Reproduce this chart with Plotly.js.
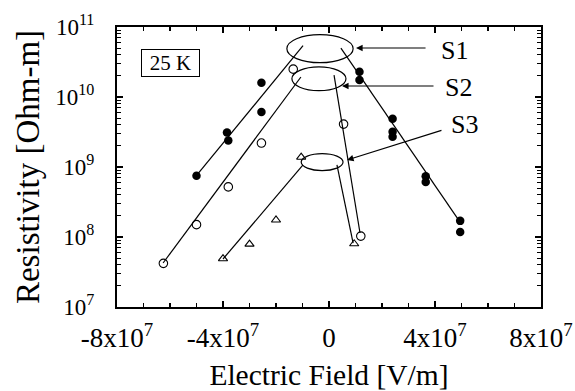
<!DOCTYPE html>
<html>
<head>
<meta charset="utf-8">
<script src="https://cdn.plot.ly/plotly-3.0.1.min.js"></script>
<style>html,body{margin:0;padding:0;background:#fff;}#chart{width:575px;height:391px;}</style>
</head>
<body>
<div id="chart"></div>
<script>
// ---- data ----
const s1Field = [-5.0e7, -3.85e7, -3.8e7, -2.55e7, -2.55e7, 1.15e7, 1.15e7, 2.4e7, 2.4e7, 2.4e7, 3.65e7, 3.65e7, 4.95e7, 4.95e7];
const s1Res   = [7.5e8, 3.1e9, 2.4e9, 1.6e10, 6.1e9, 2.3e10, 1.75e10, 4.9e9, 3.2e9, 2.7e9, 7.4e8, 6.1e8, 1.7e8, 1.18e8];
const s2Field = [-6.25e7, -5.0e7, -3.8e7, -2.55e7, -1.35e7, 0.55e7, 1.2e7];
const s2Res   = [4.2e7, 1.5e8, 5.2e8, 2.2e9, 2.5e10, 4.1e9, 1.03e8];
const s3Field = [-4.0e7, -3.0e7, -2.0e7, -1.05e7, 0.95e7];
const s3Res   = [4.9e7, 7.9e7, 1.75e8, 1.38e9, 8.0e7];

// fitted guide lines (end points)
const s1FitLeftField  = [-5.02e7, -0.98e7];  const s1FitLeftRes  = [7.4e8, 5.4e10];
const s1FitRightField = [0.45e7, 4.94e7];    const s1FitRightRes = [5.0e10, 1.64e8];
const s2FitLeftField  = [-6.26e7, -1.06e7];  const s2FitLeftRes  = [4.25e7, 1.93e10];
const s2FitRightField = [0.19e7, 1.17e7];    const s2FitRightRes = [2.06e10, 1.14e8];
const s3FitLeftField  = [-4.0e7, -0.98e7];   const s3FitLeftRes  = [4.85e7, 1.07e9];
const s3FitRightField = [0.3e7, 0.91e7];     const s3FitRightRes = [1.07e9, 8.2e7];

// peak ellipses [xmin, xmax], [ymin, ymax]
const ellipseLabels = ['S1', 'S2', 'S3'];
const ellipseField  = [[-1.59e7, 0.91e7], [-1.4e7, 0.64e7], [-1.05e7, 0.53e7]];
const ellipseRes    = [[3.09e10, 7.76e10], [1.23e10, 2.69e10], [8.9e8, 1.55e9]];
// arrow heads / tails and label positions (field, log10 resistivity)
const arrowHeadField = [1.02e7, 0.49e7, 0.68e7];
const arrowHeadLogR  = [10.70, 10.157, 9.10];
const arrowTailField = [3.7e7, 4.0e7, 4.3e7];
const arrowTailLogR  = [10.70, 10.157, 9.53];
const labelField     = [4.72e7, 4.9e7, 5.13e7];
const labelLogR      = [10.67, 10.13, 9.61];

const xTickVals = [-8e7, -4e7, 0, 4e7, 8e7];
const xTickText = ['-8x10<sup>7</sup>', '-4x10<sup>7</sup>', '0', '4x10<sup>7</sup>', '8x10<sup>7</sup>'];
const yTickVals = [1e7, 1e8, 1e9, 1e10, 1e11];
const yTickText = ['10<sup>7</sup>', '10<sup>8</sup>', '10<sup>9</sup>', '10<sup>10</sup>', '10<sup>11</sup>'];
const tempLabel = '25 K';

const FONT = '"Liberation Serif", "Times New Roman", "DejaVu Serif", serif';
const lineStyle = {color: '#000', width: 1.2};

function fit(x, y) {
  return {x: x, y: y, mode: 'lines', line: lineStyle, showlegend: false, hoverinfo: 'skip'};
}

const traces = [
  fit(s1FitLeftField, s1FitLeftRes), fit(s1FitRightField, s1FitRightRes),
  fit(s2FitLeftField, s2FitLeftRes), fit(s2FitRightField, s2FitRightRes),
  fit(s3FitLeftField, s3FitLeftRes), fit(s3FitRightField, s3FitRightRes),
  {x: s1Field, y: s1Res, mode: 'markers', name: 'S1', showlegend: false,
   marker: {symbol: 'circle', size: 8.5, color: '#000', line: {color: '#000', width: 0}}},
  {x: s2Field, y: s2Res, mode: 'markers', name: 'S2', showlegend: false,
   marker: {symbol: 'circle-open', size: 8.5, color: '#000', line: {color: '#000', width: 1.1}}},
  {x: s3Field, y: s3Res, mode: 'markers', name: 'S3', showlegend: false,
   marker: {symbol: 'triangle-up-open', size: 8, color: '#000', line: {color: '#000', width: 1.1}}}
];

const shapes = ellipseLabels.map((_, i) => ({
  type: 'circle', xref: 'x', yref: 'y',
  x0: ellipseField[i][0], x1: ellipseField[i][1],
  y0: ellipseRes[i][0], y1: ellipseRes[i][1],
  line: {color: '#000', width: 1.2}
}));

const annotations = [];
ellipseLabels.forEach((lab, i) => {
  annotations.push({
    x: arrowHeadField[i], y: arrowHeadLogR[i], xref: 'x', yref: 'y',
    ax: arrowTailField[i], ay: arrowTailLogR[i], axref: 'x', ayref: 'y',
    text: '', showarrow: true, arrowhead: 2, arrowsize: 1.1, arrowwidth: 1.2, arrowcolor: '#000',
    font: {size: 1}
  });
  annotations.push({
    x: labelField[i], y: labelLogR[i], xref: 'x', yref: 'y',
    text: lab, showarrow: false, xanchor: 'center', yanchor: 'middle',
    font: {family: FONT, size: 26, color: '#000'}
  });
});
annotations.push({
  x: 0.127, y: 0.871, xref: 'paper', yref: 'paper', xanchor: 'center', yanchor: 'middle',
  text: tempLabel, showarrow: false, bordercolor: '#000', borderwidth: 1, borderpad: 1,
  width: 55, height: 24,
  font: {family: FONT, size: 21, color: '#000'}
});

const layout = {
  width: 575, height: 391,
  margin: {l: 117, r: 34, t: 27, b: 84},
  paper_bgcolor: '#fff', plot_bgcolor: '#fff',
  font: {family: FONT, color: '#000'},
  showlegend: false,
  xaxis: {
    range: [-8e7, 8e7], tickmode: 'array', tickvals: xTickVals, ticktext: xTickText,
    ticks: 'inside', ticklen: 6, tickwidth: 1.3, tickcolor: '#000',
    minor: {tickmode: 'linear', tick0: 0, dtick: 1e7, ticks: 'inside', ticklen: 4, tickwidth: 1.1, tickcolor: '#000', showgrid: false},
    showline: true, linecolor: '#000', linewidth: 2, mirror: 'ticks',
    showgrid: false, zeroline: false,
    tickfont: {family: FONT, size: 27, color: '#000'}, ticklabelstandoff: 6,
    title: {text: 'Electric Field [V/m]', font: {family: FONT, size: 29.5, color: '#000'}, standoff: 14}
  },
  yaxis: {
    type: 'log', range: [7, 11], tickmode: 'array', tickvals: yTickVals, ticktext: yTickText,
    ticks: 'inside', ticklen: 6, tickwidth: 1.3, tickcolor: '#000',
    minor: {dtick: 'D1', ticks: 'inside', ticklen: 4, tickwidth: 1.1, tickcolor: '#000', showgrid: false},
    showline: true, linecolor: '#000', linewidth: 2, mirror: 'ticks',
    showgrid: false, zeroline: false,
    tickfont: {family: FONT, size: 23, color: '#000'}, ticklabelstandoff: 16,
    title: {text: 'Resistivity [Ohm-m]', font: {family: FONT, size: 33, color: '#000'}, standoff: 6}
  },
  shapes: shapes,
  annotations: annotations
};

Plotly.newPlot('chart', traces, layout, {displayModeBar: false, staticPlot: true});
</script>
</body>
</html>
